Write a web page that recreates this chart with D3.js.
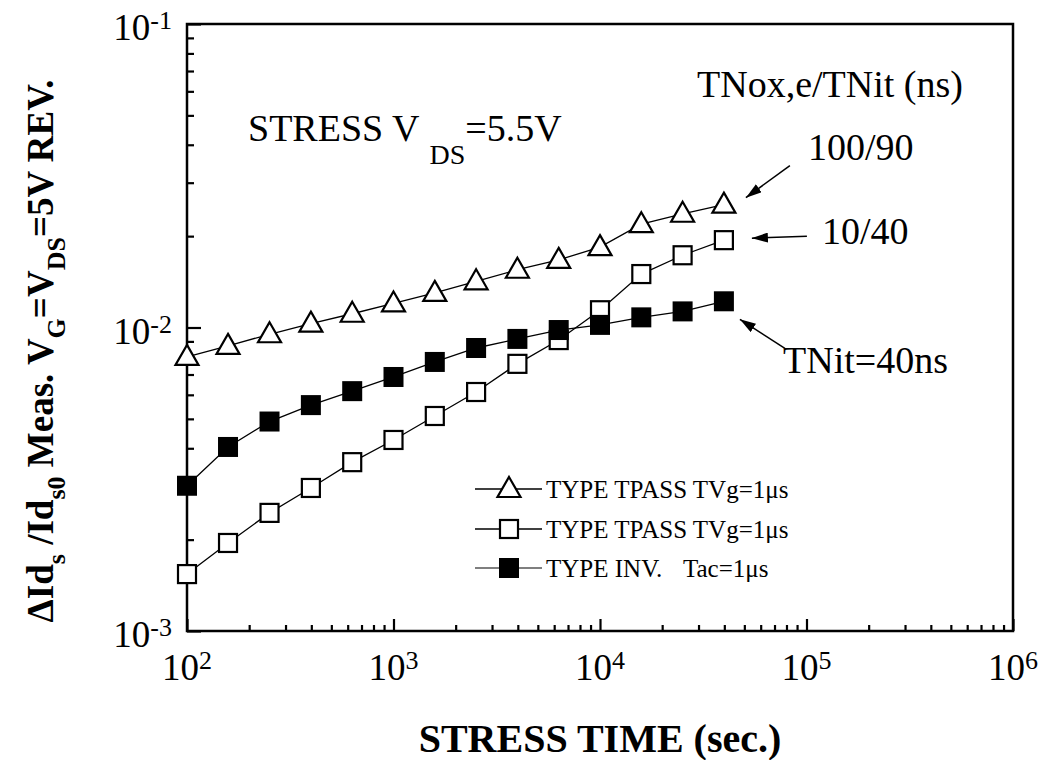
<!DOCTYPE html>
<html><head><meta charset="utf-8">
<script src="https://cdn.jsdelivr.net/npm/d3@7"></script>
<style>
body{margin:0;background:#fff}
svg{display:block}
text{font-family:"Liberation Serif","Times New Roman",serif;fill:#000}
</style>
</head><body>
<svg id="c" width="1045" height="760"></svg>
<script>
// ---- data ----
const stressTime = [100,158,251,398,631,1000,1585,2512,3981,6310,10000,15850,25120,39810];
const tpassTriangle = [0.0080,0.0087,0.0095,0.0103,0.0111,0.0120,0.0130,0.0142,0.0155,0.0167,0.0184,0.0219,0.0237,0.0254];
const tpassSquare = [0.00154,0.00195,0.00245,0.00296,0.00360,0.00426,0.00511,0.00613,0.00759,0.00909,0.0114,0.0150,0.0173,0.0194];
const invFilled = [0.00301,0.00404,0.00490,0.00555,0.00617,0.00687,0.00770,0.00856,0.00917,0.00981,0.0102,0.0108,0.0113,0.0122];
const xMajorTicks = [1e2,1e3,1e4,1e5,1e6];
const xTickExponents = ["2","3","4","5","6"];
const yMajorTicks = [1e-3,1e-2,1e-1];
const yTickExponents = ["-3","-2","-1"];
const legendLabels = ["TYPE TPASS TVg=1\u03bcs","TYPE TPASS TVg=1\u03bcs","TYPE INV."];
const legendExtra = ["","","Tac=1\u03bcs"];
const pointLabels = ["100/90","10/40","TNit=40ns"];

const svg = d3.select("#c");
const L=187, R=1013, T=24, B=631;
const x = d3.scaleLog().domain([1e2,1e6]).range([L,R]);
const y = d3.scaleLog().domain([1e-3,1e-1]).range([B,T]);

// minor ticks
const xMinor = x.ticks().filter(v => !xMajorTicks.some(m => Math.abs(m-v)/m < 1e-9));
const yMinor = y.ticks().filter(v => !yMajorTicks.some(m => Math.abs(m-v)/m < 1e-9));

function styleAxis(g){ g.select(".domain").remove(); g.selectAll("line").attr("stroke","#000").attr("stroke-width",2.2); }
svg.append("g").attr("transform",`translate(0,${B})`).call(d3.axisBottom(x).tickValues(xMinor).tickSize(-6).tickFormat("")).call(styleAxis);
svg.append("g").attr("transform",`translate(0,${B})`).call(d3.axisBottom(x).tickValues(xMajorTicks).tickSize(-12).tickFormat("")).call(styleAxis);
svg.append("g").attr("transform",`translate(${L},0)`).call(d3.axisLeft(y).tickValues(yMinor).tickSize(-7).tickFormat("")).call(styleAxis);
svg.append("g").attr("transform",`translate(${L},0)`).call(d3.axisLeft(y).tickValues(yMajorTicks).tickSize(-14).tickFormat("")).call(styleAxis);

// frame
svg.append("rect").attr("x",L).attr("y",T).attr("width",R-L).attr("height",B-T)
  .attr("fill","none").attr("stroke","#000").attr("stroke-width",2.5);

// tick labels
xMajorTicks.forEach((v,i)=>{
  const t = svg.append("text").attr("x",x(v)).attr("y",B+49).attr("text-anchor","middle").style("font-size","37px");
  t.append("tspan").text("10");
  t.append("tspan").attr("dy",-11).style("font-size","26px").text(xTickExponents[i]);
});
yMajorTicks.forEach((v,i)=>{
  const t = svg.append("text").attr("x",L-15).attr("y",y(v)+16).attr("text-anchor","end").style("font-size","37px");
  t.append("tspan").text("10");
  t.append("tspan").attr("dy",-11).style("font-size","26px").text(yTickExponents[i]);
});

// axis titles
svg.append("text").attr("x",600).attr("y",752).attr("text-anchor","middle")
  .style("font-size","40px").style("font-weight","bold").text("STRESS TIME (sec.)");
{
  const t = svg.append("text").attr("transform","translate(53,351) rotate(-90)")
    .attr("text-anchor","middle").style("font-size","37px").style("font-weight","bold");
  const parts = [["\u0394Id",0,37],["s",12,26],[" /Id",-12,37],["s0",12,26],[" Meas. V",-12,37],["G",12,26],["=V",-12,37],["DS",12,26],["=5V REV.",-12,37]];
  parts.forEach(p=>t.append("tspan").attr("dy",p[1]).style("font-size",p[2]+"px").text(p[0]));
}

// lines + markers
const line = d3.line().x(d=>x(d[0])).y(d=>y(d[1]));
const series = [tpassTriangle,tpassSquare,invFilled];
series.forEach(s=>{
  svg.append("path").datum(stressTime.map((t,i)=>[t,s[i]])).attr("d",line)
    .attr("fill","none").attr("stroke","#000").attr("stroke-width",1.3);
});
function triPath(cx,cy){ return `M${cx},${cy-12}L${cx+11.5},${cy+8}L${cx-11.5},${cy+8}Z`; }
function drawMarker(kind,cx,cy){
  if(kind===0) svg.append("path").attr("d",triPath(cx,cy)).attr("fill","#fff").attr("stroke","#000").attr("stroke-width",2.2).attr("stroke-linejoin","miter");
  else if(kind===1) svg.append("rect").attr("x",cx-9).attr("y",cy-9).attr("width",18).attr("height",18).attr("fill","#fff").attr("stroke","#000").attr("stroke-width",2.2);
  else svg.append("rect").attr("x",cx-10).attr("y",cy-10).attr("width",20).attr("height",20).attr("fill","#000");
}
series.forEach((s,k)=>stressTime.forEach((t,i)=>drawMarker(k,x(t),y(s[i]))));

// annotations
svg.append("text").attr("x",248).attr("y",141).style("font-size","38px")
  .call(t=>{t.append("tspan").text("STRESS V");
            t.append("tspan").attr("dx",10).attr("dy",23).style("font-size","28px").text("DS");
            t.append("tspan").attr("dy",-23).text("=5.5V");});
svg.append("text").attr("x",697).attr("y",97).style("font-size","38px").text("TNox,e/TNit (ns)");

const defs = svg.append("defs");
defs.append("marker").attr("id","ah").attr("viewBox","0 0 16 10").attr("refX",16).attr("refY",5)
  .attr("markerWidth",16).attr("markerHeight",10).attr("markerUnits","userSpaceOnUse").attr("orient","auto")
  .append("path").attr("d","M0,0L16,5L0,10Z").attr("fill","#000");
const last = stressTime.length-1;
const lx = x(stressTime[last]);
const arrows = [
  {lab:pointLabels[0], tx:808, ty:160, x1:lx+66, y1:y(tpassTriangle[last])-39, x2:lx+22, y2:y(tpassTriangle[last])-7},
  {lab:pointLabels[1], tx:822, ty:244, x1:lx+83, y1:y(tpassSquare[last])-4, x2:lx+28, y2:y(tpassSquare[last])-2},
  {lab:pointLabels[2], tx:783, ty:373, x1:lx+61, y1:y(invFilled[last])+47, x2:lx+16, y2:y(invFilled[last])+18}
];
arrows.forEach(a=>{
  svg.append("line").attr("x1",a.x1).attr("y1",a.y1).attr("x2",a.x2).attr("y2",a.y2)
    .attr("stroke","#000").attr("stroke-width",1.5).attr("marker-end","url(#ah)");
  svg.append("text").attr("x",a.tx).attr("y",a.ty).style("font-size","38px").text(a.lab);
});

// legend
const legY = [489,529,568];
legY.forEach((ly,k)=>{
  svg.append("line").attr("x1",475).attr("x2",542).attr("y1",ly).attr("y2",ly)
    .attr("stroke", k===2 ? "#555" : "#000").attr("stroke-width",1.3);
  drawMarker(k,509,ly);
  svg.append("text").attr("x",546).attr("y",ly+9).style("font-size","25px").text(legendLabels[k]);
  if(legendExtra[k]) svg.append("text").attr("x",683).attr("y",ly+9).style("font-size","25px").text(legendExtra[k]);
});
</script>
</body></html>
